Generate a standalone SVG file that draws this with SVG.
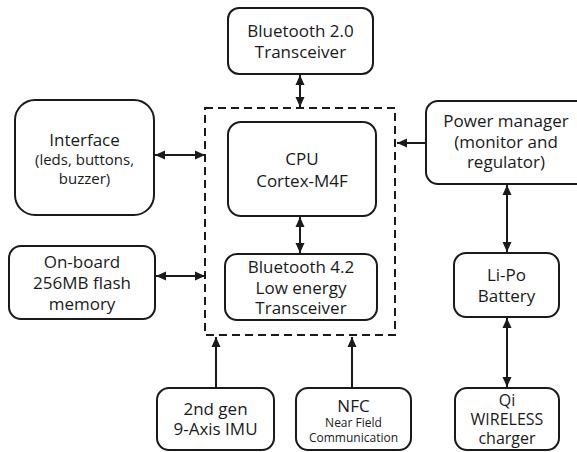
<svg xmlns="http://www.w3.org/2000/svg" width="577" height="452" viewBox="0 0 577 452">
<defs>
<marker id="ah" viewBox="0 0 10 10" refX="10" refY="5" markerWidth="10" markerHeight="10" markerUnits="userSpaceOnUse" orient="auto-start-reverse">
<path d="M0,0.5 L10,5 L0,9.5 Z" fill="#1a1a1a"/>
</marker>
</defs>
<style>
.box{fill:#fff;stroke:#1a1a1a;stroke-width:2}
.dash{fill:none;stroke:#1a1a1a;stroke-width:2;stroke-dasharray:8 5}
.t{font-family:"Open Sans","DejaVu Sans",sans-serif;font-size:17px;fill:#1a1a1a;text-anchor:middle}
.q{font-family:"Open Sans","DejaVu Sans",sans-serif;font-size:16px;fill:#1a1a1a;text-anchor:middle}
.s{font-family:"Open Sans","DejaVu Sans",sans-serif;font-size:15px;fill:#1a1a1a;text-anchor:middle}
.xs{font-family:"Open Sans","DejaVu Sans",sans-serif;font-size:12px;fill:#1a1a1a;text-anchor:middle}
.c{stroke:#1a1a1a;stroke-width:2;fill:none}
.b{marker-start:url(#ah);marker-end:url(#ah)}
.e{marker-end:url(#ah)}
</style>
<rect class="dash" x="205" y="108" width="190" height="227"/>
<g id="bt2"><rect class="box" x="228" y="8" width="145" height="66" rx="11"/>
<text class="t" x="300.5" y="37">Bluetooth 2.0</text><text class="t" x="300.5" y="58">Transceiver</text></g>
<g id="interface"><rect class="box" x="15" y="100" width="139" height="115" rx="20"/>
<text class="t" x="84.5" y="146">Interface</text><text class="s" x="84.5" y="165">(leds, buttons,</text><text class="s" x="84.5" y="184">buzzer)</text></g>
<g id="cpu"><rect class="box" x="228" y="122" width="148" height="94" rx="13"/>
<text class="t" x="302" y="165">CPU</text><text class="t" x="302" y="187">Cortex-M4F</text></g>
<g id="bt42"><rect class="box" x="225" y="254" width="152" height="66" rx="12"/>
<text class="t" x="301" y="273">Bluetooth 4.2</text><text class="t" x="301" y="294">Low energy</text><text class="t" x="301" y="314">Transceiver</text></g>
<g id="power"><rect class="box" x="426" y="101" width="162" height="83" rx="12"/>
<text class="t" x="506" y="127">Power manager</text><text class="t" x="506" y="148">(monitor and</text><text class="t" x="506" y="168">regulator)</text></g>
<g id="onboard"><rect class="box" x="9" y="246" width="146" height="73" rx="12"/>
<text class="t" x="82" y="268">On-board</text><text class="t" x="82" y="289">256MB flash</text><text class="t" x="82" y="310">memory</text></g>
<g id="lipo"><rect class="box" x="454" y="253" width="105" height="64" rx="12"/>
<text class="t" x="506.5" y="281">Li-Po</text><text class="t" x="506.5" y="302">Battery</text></g>
<g id="imu"><rect class="box" x="157" y="388" width="117" height="62" rx="12"/>
<text class="t" x="215.5" y="415">2nd gen</text><text class="t" x="215.5" y="435">9-Axis IMU</text></g>
<g id="nfc"><rect class="box" x="296" y="388" width="115" height="62" rx="12"/>
<text class="t" x="353.5" y="412">NFC</text><text class="xs" x="353.5" y="427">Near Field</text><text class="xs" x="353.5" y="442">Communication</text></g>
<g id="qi"><rect class="box" x="455" y="388" width="104" height="62" rx="12"/>
<text class="q" x="507" y="406">Qi</text><text class="q" x="507" y="425">WIRELESS</text><text class="q" x="507" y="444">charger</text></g>
<g id="connectors">
<line class="c b" x1="300" y1="75" x2="300" y2="107"/>
<line class="c b" x1="155" y1="155" x2="205" y2="155"/>
<line class="c e" x1="426" y1="143" x2="397" y2="143"/>
<line class="c b" x1="156" y1="276" x2="205" y2="276"/>
<line class="c b" x1="300" y1="217" x2="300" y2="253"/>
<line class="c b" x1="507" y1="185" x2="507" y2="252"/>
<line class="c b" x1="507" y1="318" x2="507" y2="387"/>
<line class="c e" x1="216" y1="387" x2="216" y2="337"/>
<line class="c e" x1="352" y1="387" x2="352" y2="337"/>
</g>
</svg>
